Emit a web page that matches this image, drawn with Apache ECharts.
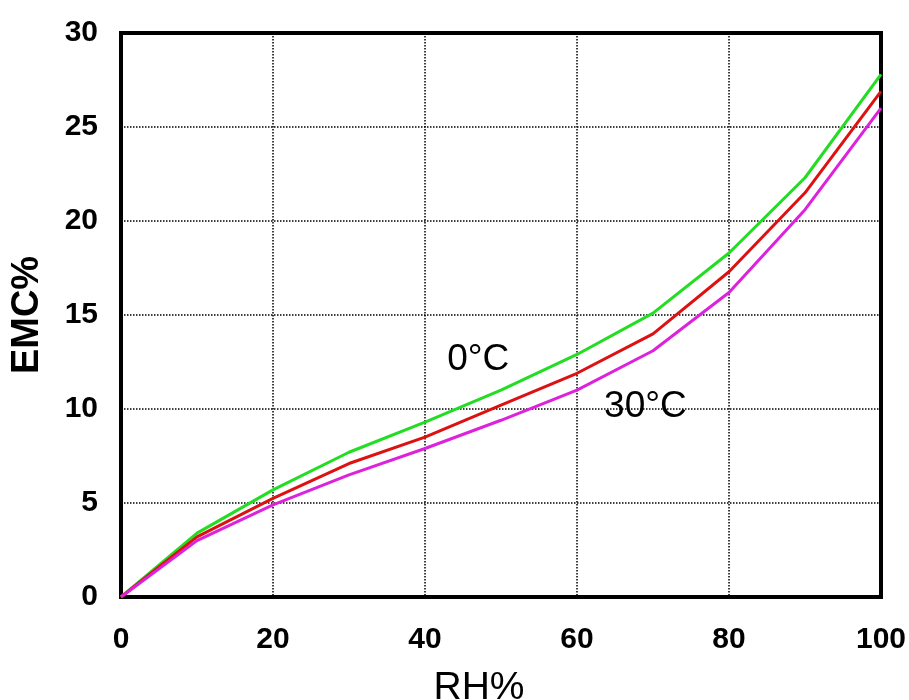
<!DOCTYPE html>
<html>
<head>
<meta charset="utf-8">
<title>EMC vs RH</title>
<script src="https://cdn.jsdelivr.net/npm/echarts@6/dist/echarts.min.js"></script>
<style>
    html, body { margin: 0; padding: 0; background: #fff; }
    #main { width: 909px; height: 700px; }
</style>
</head>
<body>
<div id="main"></div>
<script>
// 相对湿度 (x)
var rh = [0, 10, 20, 30, 40, 50, 60, 70, 80, 90, 100];
// 平衡含水率 EMC%，三个温度
var emc0 = [0, 3.4, 5.7, 7.7, 9.3, 11.0, 12.9, 15.1, 18.3, 22.3, 27.8];
var emc15 = [0, 3.2, 5.25, 7.1, 8.5, 10.2, 11.9, 14.0, 17.3, 21.5, 26.9];
var emc30 = [0, 3.0, 4.9, 6.5, 7.9, 9.4, 11.0, 13.1, 16.2, 20.6, 26.0];

function pairs(ys) {
    return rh.map(function (x, i) { return [x, ys[i]]; });
}

var myChart = echarts.init(document.getElementById('main'));

var tickFont = {
    color: '#000',
    fontFamily: 'Liberation Sans',
    fontWeight: 'bold',
    fontSize: 30
};

option = {
    backgroundColor: '#fff',
    animation: false,
    grid: {
        left: 121,
        right: 28,
        top: 33,
        bottom: 103,
        outerBoundsMode: 'none',
        containLabel: false,
        show: true,
        borderColor: '#000',
        borderWidth: 4,
        backgroundColor: '#fff'
    },
    xAxis: {
        type: 'value',
        min: 0,
        max: 100,
        interval: 20,
        name: 'RH%',
        nameLocation: 'middle',
        nameGap: 72,
        nameTextStyle: {
            color: '#000',
            fontFamily: 'Liberation Sans',
            fontSize: 39,
            padding: [0, 44, 0, 0]
        },
        axisLine: { lineStyle: { color: '#000', width: 4 } },
        axisTick: { show: false },
        axisLabel: Object.assign({ margin: 28 }, tickFont),
        splitLine: { lineStyle: { color: '#000', type: 'dotted', width: 1.5 } }
    },
    yAxis: {
        type: 'value',
        min: 0,
        max: 30,
        interval: 5,
        name: 'EMC%',
        nameLocation: 'middle',
        nameGap: 74,
        nameTextStyle: {
            color: '#000',
            fontFamily: 'Liberation Sans',
            fontWeight: 'bold',
            fontSize: 38
        },
        axisLine: { show: true, lineStyle: { color: '#000', width: 4 } },
        axisTick: { show: false },
        axisLabel: Object.assign({ margin: 23 }, tickFont),
        splitLine: { lineStyle: { color: '#000', type: 'dotted', width: 1.5 } }
    },
    series: [
        {
            name: '0°C',
            type: 'line',
            data: pairs(emc0),
            symbol: 'none',
            lineStyle: { color: '#22dd22', width: 3 },
            markPoint: {
                symbolSize: 0,
                label: {
                    show: true,
                    formatter: '0°C',
                    color: '#000',
                    fontFamily: 'Liberation Sans',
                    fontSize: 37
                },
                data: [{ coord: [47, 12.6] }]
            }
        },
        {
            name: '15°C',
            type: 'line',
            data: pairs(emc15),
            symbol: 'none',
            lineStyle: { color: '#dd1111', width: 3 }
        },
        {
            name: '30°C',
            type: 'line',
            data: pairs(emc30),
            symbol: 'none',
            lineStyle: { color: '#dd22dd', width: 3 },
            markPoint: {
                symbolSize: 0,
                label: {
                    show: true,
                    formatter: '30°C',
                    color: '#000',
                    fontFamily: 'Liberation Sans',
                    fontSize: 37
                },
                data: [{ coord: [69, 10.1] }]
            }
        }
    ]
};
myChart.setOption(option);
</script>
</body>
</html>
